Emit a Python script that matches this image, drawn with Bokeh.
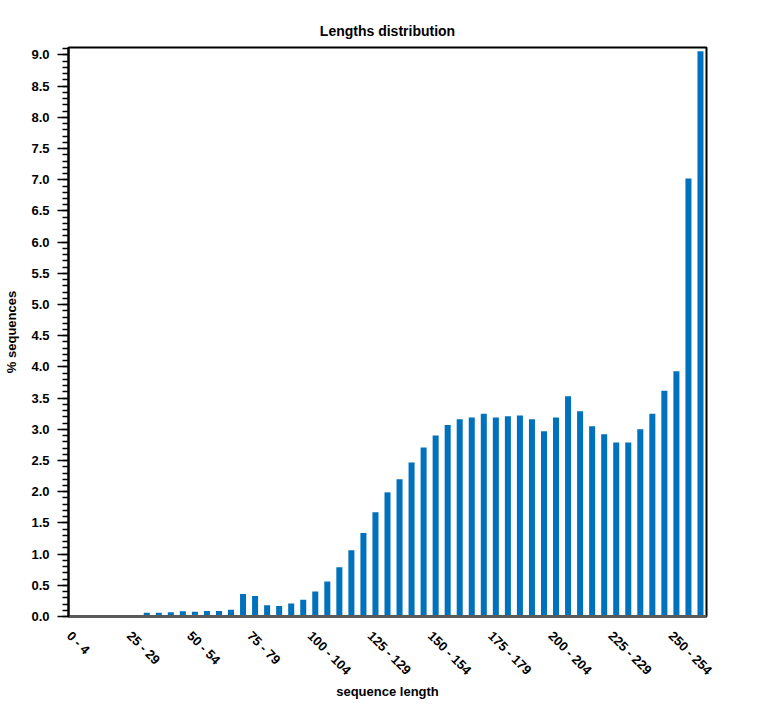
import math
from bokeh.plotting import figure
from bokeh.models import (FixedTicker, SingleIntervalTicker, PrintfTickFormatter,
                          Range1d, ColumnDataSource)
from bokeh.embed import file_html
from bokeh.resources import INLINE

# ---- data ----
bins = ["0 - 4", "5 - 9", "10 - 14", "15 - 19", "20 - 24",
        "25 - 29", "30 - 34", "35 - 39", "40 - 44", "45 - 49",
        "50 - 54", "55 - 59", "60 - 64", "65 - 69", "70 - 74",
        "75 - 79", "80 - 84", "85 - 89", "90 - 94", "95 - 99",
        "100 - 104", "105 - 109", "110 - 114", "115 - 119", "120 - 124",
        "125 - 129", "130 - 134", "135 - 139", "140 - 144", "145 - 149",
        "150 - 154", "155 - 159", "160 - 164", "165 - 169", "170 - 174",
        "175 - 179", "180 - 184", "185 - 189", "190 - 194", "195 - 199",
        "200 - 204", "205 - 209", "210 - 214", "215 - 219", "220 - 224",
        "225 - 229", "230 - 234", "235 - 239", "240 - 244", "245 - 249",
        "250 - 254", "255 - 259", "260 - 264"]

percent = [0.0, 0.0, 0.0, 0.0, 0.0,
           0.0, 0.06, 0.06, 0.07, 0.085,
           0.075, 0.09, 0.09, 0.11, 0.36,
           0.33, 0.18, 0.17, 0.21, 0.27,
           0.40, 0.56, 0.79, 1.06, 1.34,
           1.67, 1.99, 2.20, 2.47, 2.71,
           2.90, 3.07, 3.16, 3.19, 3.25,
           3.19, 3.21, 3.22, 3.16, 2.97,
           3.19, 3.53, 3.29, 3.05, 2.92,
           2.79, 2.79, 3.00, 3.25, 3.62,
           3.93, 7.02, 9.06]

shown_labels = ["0 - 4", "25 - 29", "50 - 54", "75 - 79", "100 - 104",
                "125 - 129", "150 - 154", "175 - 179", "200 - 204",
                "225 - 229", "250 - 254"]

FONT = "Liberation Sans"
LABEL_SHIFT = -0.45   # rotated label anchor sits a little left of the bar centre

src = ColumnDataSource(dict(x=list(range(len(bins))), top=percent, bin=bins))

p = figure(width=760, height=708, output_backend="svg", toolbar_location=None,
           x_range=Range1d(-0.5, len(bins) - 0.5), y_range=Range1d(0, 9.12),
           title="Lengths distribution",
           min_border_left=68, min_border_right=54,
           min_border_top=47, min_border_bottom=92)

p.vbar(x="x", top="top", width=0.5, source=src, color="#0071bc", line_color=None)

# title
p.title.align = "center"
p.title.text_font = FONT
p.title.text_font_size = "14px"
p.title.text_font_style = "bold"
p.title.text_color = "black"
p.title.standoff = 17

# frame
p.grid.visible = False
p.outline_line_color = "black"
p.outline_line_width = 2
p.background_fill_color = "white"
p.border_fill_color = "white"

# x axis
tick_pos = [round(bins.index(s) + LABEL_SHIFT, 2) for s in shown_labels]
p.xaxis.ticker = FixedTicker(ticks=tick_pos)
p.xaxis.major_label_overrides = {t: s for t, s in zip(tick_pos, shown_labels)}
p.xaxis.major_label_orientation = math.radians(-45)
p.xaxis.major_tick_out = 0
p.xaxis.major_tick_in = 0
p.xaxis.minor_tick_out = 0
p.xaxis.minor_tick_in = 0
p.xaxis.axis_line_color = "#5a5a5a"
p.xaxis.axis_line_width = 3
p.xaxis.major_label_standoff = 17
p.xaxis.axis_label = "sequence length"
p.xaxis.axis_label_standoff = -2

# y axis
p.yaxis.ticker = SingleIntervalTicker(interval=0.5, num_minor_ticks=5)
p.yaxis.formatter = PrintfTickFormatter(format="%.1f")
p.yaxis.major_tick_out = 11
p.yaxis.major_tick_in = 0
p.yaxis.minor_tick_out = 6
p.yaxis.minor_tick_in = 0
p.yaxis.major_tick_line_color = "black"
p.yaxis.minor_tick_line_color = "black"
p.yaxis.major_tick_line_width = 1.5
p.yaxis.minor_tick_line_width = 1.5
p.yaxis.axis_line_color = "black"
p.yaxis.axis_line_width = 2
p.yaxis.major_label_standoff = 8
p.yaxis.axis_label = "% sequences"
p.yaxis.axis_label_standoff = 9

for ax in (p.xaxis, p.yaxis):
    ax.major_label_text_font = FONT
    ax.major_label_text_font_size = "13px"
    ax.major_label_text_font_style = "bold"
    ax.major_label_text_color = "black"
    ax.axis_label_text_font = FONT
    ax.axis_label_text_font_size = "13px"
    ax.axis_label_text_font_style = "bold"
    ax.axis_label_text_color = "black"

open("out.html", "w").write(file_html(p, INLINE))
